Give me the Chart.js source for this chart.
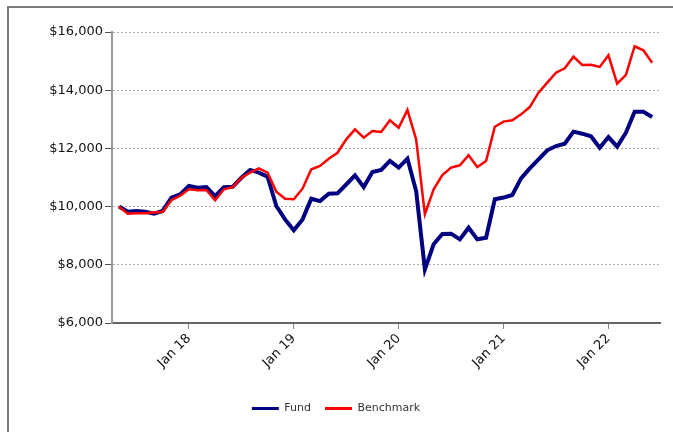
<!DOCTYPE html>
<html>
<head>
<meta charset="utf-8">
<script src="https://cdn.jsdelivr.net/npm/chart.js@4/dist/chart.umd.min.js"></script>
<style>
  html, body { margin: 0; padding: 0; background: #fff; }
  #wrap { width: 673px; height: 432px; position: relative; }
</style>
</head>
<body>
<div id="wrap"><canvas id="chart" width="673" height="432"></canvas></div>
<script>
// month labels, one per point (May 17 .. Jun 22)
const months = [
    "May 17","Jun 17","Jul 17","Aug 17","Sep 17","Oct 17","Nov 17","Dec 17",
    "Jan 18","Feb 18","Mar 18","Apr 18","May 18","Jun 18","Jul 18","Aug 18","Sep 18","Oct 18","Nov 18","Dec 18",
    "Jan 19","Feb 19","Mar 19","Apr 19","May 19","Jun 19","Jul 19","Aug 19","Sep 19","Oct 19","Nov 19","Dec 19",
    "Jan 20","Feb 20","Mar 20","Apr 20","May 20","Jun 20","Jul 20","Aug 20","Sep 20","Oct 20","Nov 20","Dec 20",
    "Jan 21","Feb 21","Mar 21","Apr 21","May 21","Jun 21","Jul 21","Aug 21","Sep 21","Oct 21","Nov 21","Dec 21",
    "Jan 22","Feb 22","Mar 22","Apr 22","May 22","Jun 22"
];

const fund = [
    10000, 9825, 9850, 9825, 9755, 9850, 10310, 10420,
    10710, 10650, 10670, 10360, 10670, 10680, 10990, 11260, 11165, 11030, 10020, 9560,
    9185, 9560, 10270, 10190, 10445, 10455, 10760, 11075, 10670, 11190, 11260, 11570,
    11340, 11650, 10535, 7845, 8705, 9060, 9070, 8875, 9275, 8875, 8930, 10250,
    10310, 10400, 10970, 11315, 11625, 11935, 12080, 12160, 12575, 12505, 12415, 12025,
    12390, 12060, 12540, 13260, 13260, 13080
];

const benchmark = [
    10000, 9755, 9770, 9770, 9800, 9825, 10220, 10375,
    10595, 10560, 10570, 10220, 10595, 10670, 10990, 11165, 11315, 11165, 10510, 10270,
    10250, 10615, 11280, 11395, 11645, 11850, 12310, 12655, 12370, 12600, 12565, 12965,
    12710, 13320, 12310, 9735, 10595, 11080, 11340, 11420, 11765, 11360, 11565, 12745,
    12920, 12965, 13170, 13420, 13915, 14260, 14600, 14750, 15150, 14865, 14875, 14800,
    15200, 14225, 14525, 15510, 15370, 14945
];

const yTicks = [6000, 8000, 10000, 12000, 14000, 16000];

const FONT = "'DejaVu Sans', Verdana, sans-serif";

// grey frame along top and left of the picture
const framePlugin = {
    id: "frame",
    beforeDraw(chart) {
        const c = chart.ctx;
        c.save();
        c.strokeStyle = "#7a7a7a";
        c.lineWidth = 2;
        c.beginPath();
        c.moveTo(8, chart.height);
        c.lineTo(8, 7);
        c.lineTo(chart.width, 7);
        c.stroke();
        c.restore();
    }
};

const ctx = document.getElementById("chart").getContext("2d");
new Chart(ctx, {
    type: "line",
    data: {
        datasets: [
            {
                label: "Benchmark",
                data: benchmark.map((v, i) => ({ x: i, y: v })),
                borderColor: "#ff0000",
                backgroundColor: "#ff0000",
                borderWidth: 2.5,
                pointRadius: 0,
                fill: false
            },
            {
                label: "Fund",
                data: fund.map((v, i) => ({ x: i, y: v })),
                borderColor: "#000080",
                backgroundColor: "#000080",
                borderWidth: 4,
                pointRadius: 0,
                fill: false
            }
        ]
    },
    options: {
        responsive: false,
        animation: false,
        layout: { padding: { top: 32, left: 12, right: 13, bottom: 8 } },
        plugins: {
            tooltip: { enabled: false },
            legend: {
                display: true,
                position: "bottom",
                reverse: true,
                labels: {
                    font: { family: FONT, size: 11 },
                    color: "#333",
                    boxWidth: 27,
                    boxHeight: 3,
                    padding: 14,
                    generateLabels(chart) {
                        return Chart.defaults.plugins.legend.labels.generateLabels(chart)
                            .map(l => Object.assign(l, { lineWidth: 0 }));
                    }
                }
            }
        },
        scales: {
            x: {
                type: "linear",
                min: -0.8,
                max: 61.9,
                afterBuildTicks(scale) {
                    scale.ticks = months
                        .map((m, i) => (m.startsWith("Jan") ? { value: i } : null))
                        .filter(t => t);
                },
                afterFit(scale) { scale.height = 66; },
                ticks: {
                    callback: v => months[v],
                    minRotation: 45,
                    maxRotation: 45,
                    autoSkip: false,
                    font: { family: FONT, size: 13 },
                    color: "#111",
                    padding: 2
                },
                grid: {
                    drawOnChartArea: false,
                    tickLength: 6,
                    tickColor: "#888",
                    tickWidth: 1
                },
                border: { color: "#666", width: 2 }
            },
            y: {
                min: 6000,
                max: 16000,
                afterBuildTicks(scale) {
                    scale.ticks = yTicks.map(v => ({ value: v }));
                },
                afterFit(scale) { scale.width = 100; },
                ticks: {
                    callback: v => "$" + v.toLocaleString("en-US"),
                    font: { family: FONT, size: 13 },
                    color: "#111",
                    padding: 2
                },
                grid: {
                    color: "#aaa",
                    lineWidth: 1,
                    tickBorderDash: [],
                    tickLength: 7,
                    tickColor: "#555",
                    tickWidth: 1
                },
                border: { color: "#999", width: 2, dash: [2, 2] }
            }
        }
    },
    plugins: [framePlugin]
});
</script>
</body>
</html>
